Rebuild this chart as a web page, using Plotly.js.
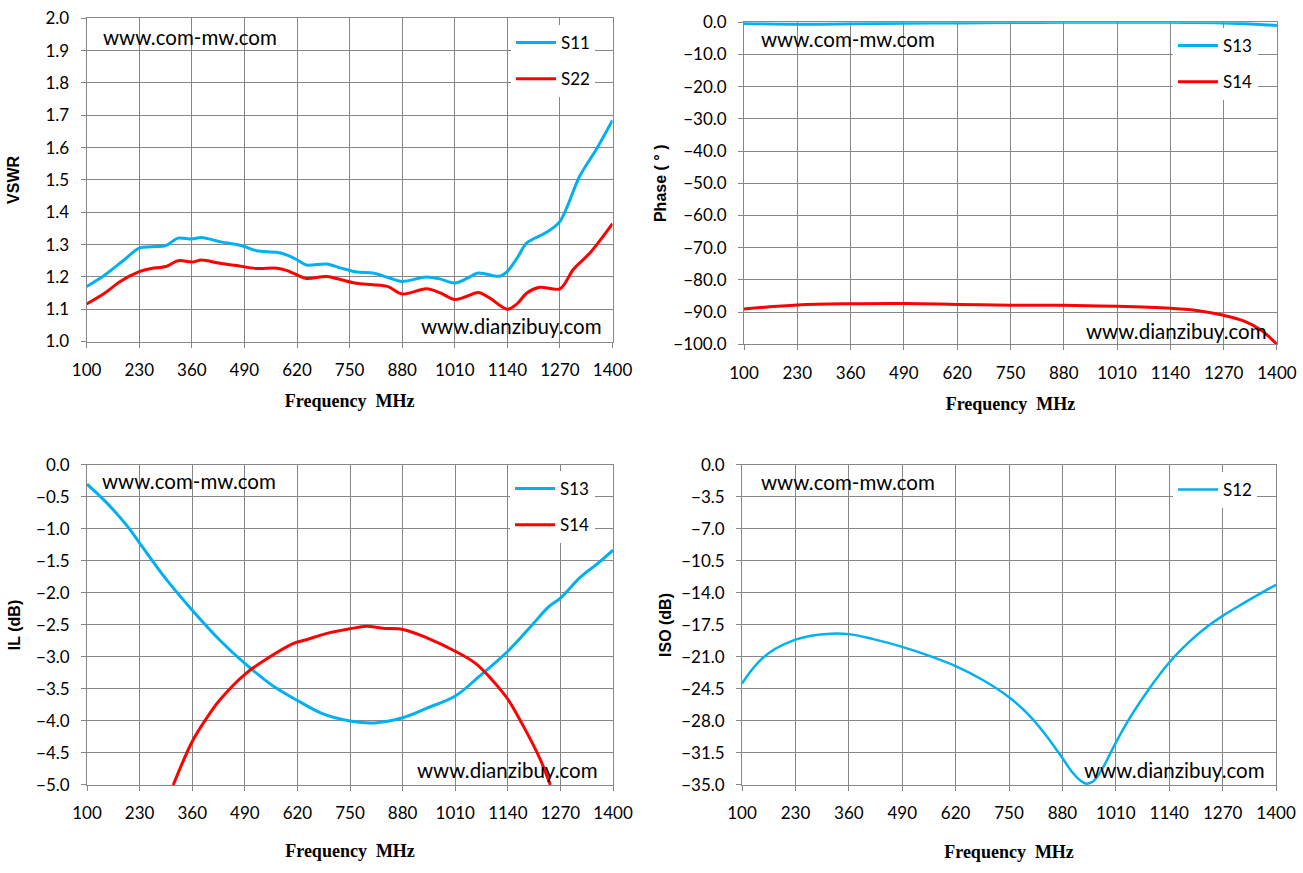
<!DOCTYPE html>
<html>
<head>
<meta charset="utf-8">
<script src="https://cdn.plot.ly/plotly-3.0.1.min.js"></script>
<style>html,body{margin:0;padding:0;background:#fff;}#chart{width:1303px;height:873px;}</style>
</head>
<body>
<div id="chart"></div>
<script>
// ---- data ----
const freqTicks = [100, 230, 360, 490, 620, 750, 880, 1010, 1140, 1270, 1400];

// VSWR
const vswrS11F = [100, 145, 190, 230, 260, 296, 326, 360, 384, 429, 471, 490, 520, 570, 594, 620, 643, 693, 727, 767, 808, 845, 880, 940, 975, 1010, 1040, 1068, 1121, 1140, 1165, 1188, 1237, 1270, 1319, 1360, 1400];
const vswrS11V = [1.17, 1.206, 1.25, 1.289, 1.293, 1.297, 1.32, 1.317, 1.322, 1.309, 1.30, 1.294, 1.281, 1.276, 1.268, 1.253, 1.237, 1.240, 1.228, 1.215, 1.212, 1.198, 1.186, 1.2, 1.193, 1.181, 1.195, 1.212, 1.202, 1.217, 1.26, 1.305, 1.338, 1.372, 1.512, 1.595, 1.685];
const vswrS22F = [100, 145, 182, 230, 260, 296, 326, 360, 384, 429, 471, 520, 570, 594, 620, 643, 693, 727, 767, 808, 845, 880, 940, 975, 1010, 1040, 1068, 1096, 1140, 1165, 1188, 1220, 1270, 1303, 1344, 1400];
const vswrS22V = [1.116, 1.15, 1.185, 1.216, 1.226, 1.232, 1.25, 1.246, 1.252, 1.242, 1.235, 1.226, 1.227, 1.22, 1.206, 1.195, 1.201, 1.192, 1.18, 1.176, 1.17, 1.147, 1.163, 1.15, 1.13, 1.14, 1.152, 1.135, 1.1, 1.118, 1.15, 1.168, 1.163, 1.223, 1.274, 1.365];

// Phase
const phS13F = [100, 230, 360, 490, 620, 750, 880, 1010, 1140, 1270, 1350, 1400];
const phS13V = [-0.4, -0.6, -0.5, -0.3, -0.2, -0.1, 0.0, 0.0, 0.0, -0.2, -0.6, -1.0];
const phS14F = [100, 230, 360, 490, 620, 750, 880, 1010, 1140, 1200, 1270, 1320, 1360, 1400];
const phS14V = [-89.0, -87.8, -87.4, -87.3, -87.6, -87.9, -87.9, -88.2, -88.8, -89.4, -91.0, -92.8, -95.5, -100.0];

// Insertion loss
const ilS13F = [100, 150, 200, 230, 295, 360, 427, 490, 559, 620, 680, 750, 810, 880, 940, 1010, 1070, 1140, 1200, 1240, 1270, 1320, 1360, 1400];
const ilS13V = [-0.30, -0.60, -0.96, -1.22, -1.78, -2.27, -2.73, -3.10, -3.45, -3.68, -3.88, -4.00, -4.03, -3.95, -3.80, -3.61, -3.30, -2.91, -2.50, -2.22, -2.08, -1.75, -1.55, -1.33];
const ilS14F = [313, 360, 394, 427, 490, 551, 609, 642, 700, 750, 790, 830, 880, 940, 1010, 1060, 1100, 1140, 1180, 1220, 1245];
const ilS14V = [-5.0, -4.32, -3.97, -3.68, -3.27, -3.00, -2.79, -2.73, -2.62, -2.56, -2.52, -2.55, -2.57, -2.70, -2.91, -3.10, -3.35, -3.66, -4.10, -4.60, -5.0];

// Isolation
const isoS12F = [100, 122, 148, 181, 230, 265, 316, 360, 417, 490, 551, 620, 686, 750, 795, 837, 879, 904, 925, 938, 955, 976, 1010, 1047, 1089, 1140, 1190, 1232, 1270, 1316, 1358, 1400];
const isoS12V = [-23.9, -22.5, -21.2, -20.1, -19.1, -18.7, -18.45, -18.5, -19.02, -19.89, -20.8, -22.0, -23.52, -25.4, -27.2, -29.4, -32.0, -33.6, -34.55, -34.85, -34.6, -33.3, -30.36, -27.45, -24.6, -21.6, -19.3, -17.7, -16.5, -15.25, -14.15, -13.1];

// ---- styling ----
const BLUE = '#00B0F0', RED = '#FF0000', GRID = '#878787';
const tickFont = {family: 'Lato, sans-serif', size: 17, color: '#000'};
const NB = '\u00a0';

function xax(domain, anchor, standoff) {
  return {domain: domain, anchor: anchor, range: [100, 1400], tickvals: freqTicks,
    showgrid: true, gridcolor: GRID, gridwidth: 1, zeroline: false,
    showline: true, mirror: true, linecolor: GRID, linewidth: 1,
    ticks: 'outside', ticklen: 5, tickcolor: GRID, tickfont: tickFont, ticklabelstandoff: 8,
    title: {text: 'Frequency' + NB + NB + 'MHz', standoff: standoff, font: {family: 'Liberation Serif, serif', size: 18, color: '#000', weight: 'bold'}},
    fixedrange: true};
}
function yax(domain, anchor, range, dtick, title, standoff) {
  return {domain: domain, anchor: anchor, range: range, dtick: dtick, tick0: 0, tickformat: '.1f',
    showgrid: true, gridcolor: GRID, gridwidth: 1, zeroline: false,
    showline: true, mirror: true, linecolor: GRID, linewidth: 1,
    ticks: 'outside', ticklen: 5, tickcolor: GRID, tickfont: tickFont, ticklabelstandoff: 8,
    title: {text: title, standoff: standoff, font: {family: 'Liberation Sans, Arial, sans-serif', size: 16, color: '#000', weight: 'bold'}},
    fixedrange: true};
}

const data = [
  {x: vswrS11F, y: vswrS11V, name: 'S11', xaxis: 'x', yaxis: 'y', legend: 'legend', legendgroup: 'a1', mode: 'lines', line: {color: BLUE, width: 3, shape: 'spline', smoothing: 0.9}},
  {x: vswrS22F, y: vswrS22V, name: 'S22', xaxis: 'x', yaxis: 'y', legend: 'legend', legendgroup: 'a2', mode: 'lines', line: {color: RED, width: 3, shape: 'spline', smoothing: 0.9}},
  {x: phS13F, y: phS13V, name: 'S13', xaxis: 'x2', yaxis: 'y2', legend: 'legend2', legendgroup: 'b1', mode: 'lines', line: {color: BLUE, width: 3, shape: 'spline'}},
  {x: phS14F, y: phS14V, name: 'S14', xaxis: 'x2', yaxis: 'y2', legend: 'legend2', legendgroup: 'b2', mode: 'lines', line: {color: RED, width: 3, shape: 'spline'}},
  {x: ilS13F, y: ilS13V, name: 'S13', xaxis: 'x3', yaxis: 'y3', legend: 'legend3', legendgroup: 'c1', mode: 'lines', line: {color: BLUE, width: 3, shape: 'spline'}},
  {x: ilS14F, y: ilS14V, name: 'S14', xaxis: 'x3', yaxis: 'y3', legend: 'legend3', legendgroup: 'c2', mode: 'lines', line: {color: RED, width: 3, shape: 'spline'}},
  {x: isoS12F, y: isoS12V, name: 'S12', xaxis: 'x4', yaxis: 'y4', legend: 'legend4', legendgroup: 'd1', mode: 'lines', line: {color: BLUE, width: 2.5, shape: 'spline'}}
];

function leg(x, y) {
  return {x: x, y: y, xanchor: 'left', yanchor: 'top', bgcolor: '#fff', borderwidth: 0,
    font: {family: 'Lato, sans-serif', size: 17, color: '#000'}, itemwidth: 40, tracegroupgap: 11, itemclick: false, itemdoubleclick: false};
}
function wm(text, x, y) {
  return {text: text, xref: 'paper', yref: 'paper', x: x / 1303, y: 1 - y / 873, xanchor: 'left', yanchor: 'middle',
    showarrow: false, font: {family: 'Lato, sans-serif', size: 20.5, color: '#000'}};
}

const layout = {
  width: 1303, height: 873, margin: {l: 0, r: 0, t: 0, b: 0},
  paper_bgcolor: '#fff', plot_bgcolor: '#fff', showlegend: true,
  xaxis: xax([0.0665, 0.4701], 'y', 15),
  yaxis: yax([0.6088, 0.9790], 'x', [1.0, 2.0], 0.1, 'VSWR', 21),
  xaxis2: xax([0.5710, 0.9800], 'y2', 15),
  yaxis2: yax([0.6056, 0.9745], 'x2', [-100, 0], 10, 'Phase ( \u00b0 )', 2),
  xaxis3: xax([0.0668, 0.4705], 'y3', 21),
  yaxis3: yax([0.1008, 0.4674], 'x3', [-5, 0], 0.5, 'IL (dB)', 11),
  xaxis4: xax([0.5695, 0.9793], 'y4', 22),
  yaxis4: yax([0.1008, 0.4674], 'x4', [-35, 0], 3.5, 'ISO (dB)', 5),
  legend: leg(511 / 1303, 1 - 25 / 873),
  legend2: leg(1173 / 1303, 1 - 28 / 873),
  legend3: leg(510 / 1303, 1 - 471 / 873),
  legend4: leg(1173 / 1303, 1 - 472 / 873),
  annotations: [
    wm('www.com-mw.com', 101, 37), wm('www.dianzibuy.com', 419, 326),
    wm('www.com-mw.com', 759, 39), wm('www.dianzibuy.com', 1084, 331),
    wm('www.com-mw.com', 100, 481), wm('www.dianzibuy.com', 415, 770),
    wm('www.com-mw.com', 759, 482), wm('www.dianzibuy.com', 1082, 770)
  ]
};

Plotly.newPlot('chart', data, layout, {displayModeBar: false, staticPlot: true});
</script>
</body>
</html>
